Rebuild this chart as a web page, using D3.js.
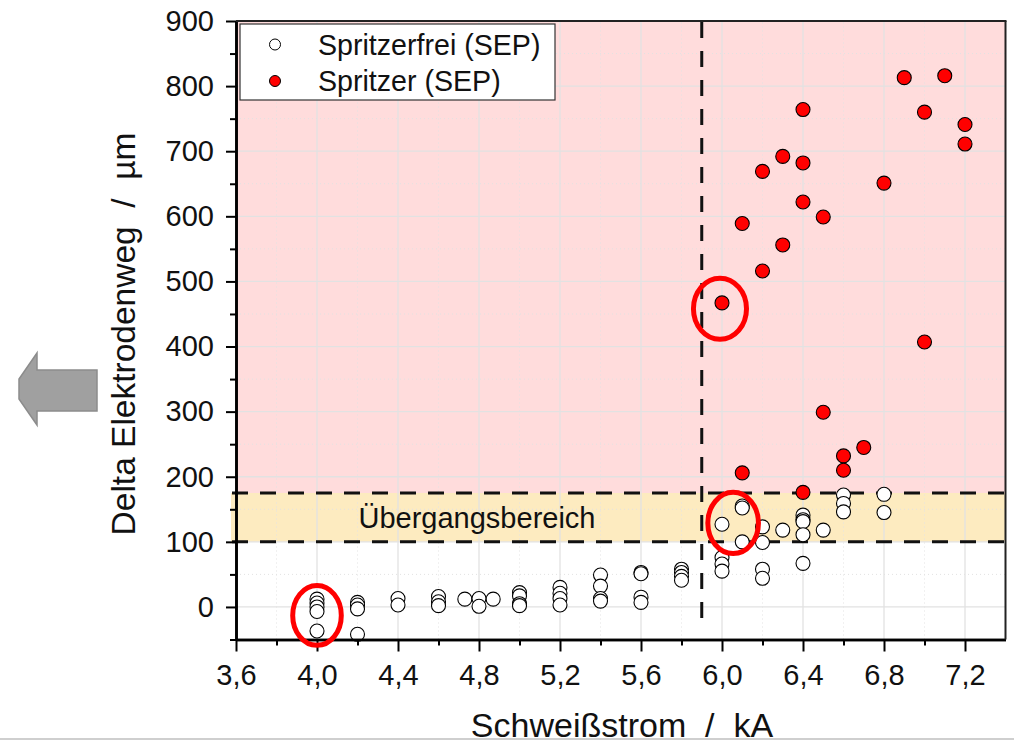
<!DOCTYPE html>
<html>
<head>
<meta charset="utf-8">
<script src="https://cdn.jsdelivr.net/npm/d3@7"></script>
<style>
  html, body { margin: 0; padding: 0; background: #fff; }
  svg { display: block; font-family: "Liberation Sans", Arial, Helvetica, sans-serif; }
  svg text { white-space: pre; }
</style>
</head>
<body>
<svg id="chart" width="1014" height="743"></svg>
<script>
// Schweißstrom (kA) gegen Delta Elektrodenweg (µm), Schweißversuche mit/ohne Spritzer

// Spritzerfrei (SEP): Strom in kA und Elektrodenweg in µm
const freiStrom = [
  4.0, 4.0, 4.0, 4.0, 4.0,
  4.2, 4.2, 4.2, 4.2,
  4.4, 4.4,
  4.6, 4.6, 4.6,
  4.73,
  4.8, 4.8,
  4.87,
  5.0, 5.0, 5.0, 5.0,
  5.2, 5.2, 5.2, 5.2,
  5.4, 5.4, 5.4, 5.4,
  5.6, 5.6, 5.6, 5.6,
  5.8, 5.8, 5.8, 5.8,
  6.0, 6.0, 6.0, 6.0,
  6.1, 6.1, 6.1,
  6.2, 6.2, 6.2, 6.2,
  6.3,
  6.4, 6.4, 6.4, 6.4, 6.4,
  6.5,
  6.6, 6.6, 6.6,
  6.8, 6.8
];
const freiWeg = [
  12, 6, 0, -7, -37,
  7, 3, -3, -42,
  13, 3,
  16, 8, 2,
  12,
  13, 1,
  12,
  22, 17, 5, 2,
  30, 21, 13, 3,
  49, 32, 13, 9,
  53, 51, 15, 7,
  58, 53, 47, 41,
  76, 66, 55, 127,
  155, 152, 100,
  123, 99, 58, 44,
  118,
  141, 134, 131, 111, 67,
  118,
  172, 159, 146,
  173, 145
];

// Spritzer (SEP)
const spritzerStrom = [
  6.0,
  6.1, 6.1,
  6.2, 6.2,
  6.3, 6.3,
  6.4, 6.4, 6.4, 6.4,
  6.5, 6.5,
  6.6, 6.6,
  6.7,
  6.8,
  6.9,
  7.0, 7.0,
  7.1,
  7.2, 7.2
];
const spritzerWeg = [
  467,
  589, 206,
  669, 516,
  692, 556,
  764, 682, 622, 176,
  599, 299,
  232, 210,
  245,
  651,
  813,
  760, 407,
  816,
  741, 711
];

// Achsen
const xDomain = [3.6, 7.4];
const yDomain = [-50, 900];
const xTicks = [3.6, 4.0, 4.4, 4.8, 5.2, 5.6, 6.0, 6.4, 6.8, 7.2];
const xMinorTicks = [3.8, 4.2, 4.6, 5.0, 5.4, 5.8, 6.2, 6.6, 7.0];
const yTicks = [0, 100, 200, 300, 400, 500, 600, 700, 800, 900];
const yMinorTicks = [-50, 50, 150, 250, 350, 450, 550, 650, 750, 850];

// Bereiche: Übergangsbereich zwischen unten/oben, darüber Spritzerbereich
const uebergang = [100, 175];
const stromGrenze = 5.9;
const stromGrenzeUnten = -34;

// Markierte Punktgruppen (Mittelpunkt und Halbachsen in Dateneinheiten)
const markCx = [4.0, 5.99, 6.055];
const markCy = [-13, 458, 129];
const markRx = [0.12, 0.131, 0.125];
const markRy = [46, 47, 47];

const legendLabels = ["Spritzerfrei (SEP)", "Spritzer (SEP)"];

const svg = d3.select("#chart");
const W = 1014, H = 743;

const x = d3.scaleLinear().domain(xDomain).range([236, 1005.5]);
const y = d3.scaleLinear().domain(yDomain).range([639.5, 21]);

const comma = d3.formatLocale({ decimal: ",", thousands: ".", grouping: [3], currency: ["", " €"] }).format(".1f");

// Trennlinie am unteren Bildrand
svg.append("rect").attr("x", 0).attr("y", 738).attr("width", W).attr("height", 2).attr("fill", "#cfcfcf");

// Hintergrundflächen
const x0 = x.range()[0], x1 = x.range()[1];
svg.append("rect")
  .attr("x", x0).attr("y", y(yDomain[1]))
  .attr("width", x1 - x0).attr("height", y(uebergang[1]) - y(yDomain[1]))
  .attr("fill", "#ffdcdc");
svg.append("rect")
  .attr("x", x0 - 5).attr("y", y(uebergang[1]))
  .attr("width", x1 - x0 + 5).attr("height", y(uebergang[0]) - y(uebergang[1]))
  .attr("fill", "#fdebc0");

// Gitter
const grid = svg.append("g");
grid.selectAll("line.vmaj").data(xTicks.filter(d => d > xDomain[0])).join("line")
  .attr("x1", d => x(d)).attr("x2", d => x(d))
  .attr("y1", y(yDomain[0])).attr("y2", y(yDomain[1]))
  .attr("stroke", "#e2e2e2").attr("stroke-width", 1.3);
grid.selectAll("line.vmin").data(xMinorTicks).join("line")
  .attr("x1", d => x(d)).attr("x2", d => x(d))
  .attr("y1", y(yDomain[0])).attr("y2", y(yDomain[1]))
  .attr("stroke", "#e2e2e2").attr("stroke-width", 1).attr("stroke-dasharray", "1,3");
grid.selectAll("line.hmaj").data(yTicks.filter(d => d < yDomain[1])).join("line")
  .attr("x1", x0).attr("x2", x1)
  .attr("y1", d => y(d)).attr("y2", d => y(d))
  .attr("stroke", "#e2e2e2").attr("stroke-width", 1.3);
grid.selectAll("line.hmin").data(yMinorTicks.filter(d => d > yDomain[0])).join("line")
  .attr("x1", x0).attr("x2", x1)
  .attr("y1", d => y(d)).attr("y2", d => y(d))
  .attr("stroke", "#e2e2e2").attr("stroke-width", 1).attr("stroke-dasharray", "1,3");

// Grenzlinien (gestrichelt)
const dashed = svg.append("g").attr("stroke", "#111").attr("stroke-width", 3).attr("fill", "none");
dashed.selectAll("line.h").data(uebergang).join("line")
  .attr("x1", x0 - 4).attr("x2", x1)
  .attr("y1", d => y(d)).attr("y2", d => y(d))
  .attr("stroke-dasharray", "16,12");
dashed.append("line")
  .attr("x1", x(stromGrenze)).attr("x2", x(stromGrenze))
  .attr("y1", y(yDomain[1]) + 1).attr("y2", y(stromGrenzeUnten))
  .attr("stroke-dasharray", "16,13");

// Beschriftung Übergangsbereich
svg.append("text")
  .attr("x", x(4.205)).attr("y", y((uebergang[0] + uebergang[1]) / 2))
  .attr("dy", "0.36em")
  .attr("font-size", 29).attr("fill", "#111")
  .text("Übergangsbereich");

// Messpunkte
const freiData = freiStrom.map((s, i) => [s, freiWeg[i]]);
const spritzerData = spritzerStrom.map((s, i) => [s, spritzerWeg[i]]);

svg.append("g").selectAll("circle").data(freiData).join("circle")
  .attr("cx", d => x(d[0])).attr("cy", d => y(d[1])).attr("r", 7)
  .attr("fill", "#fff").attr("stroke", "#000").attr("stroke-width", 1.1);
svg.append("g").selectAll("circle").data(spritzerData).join("circle")
  .attr("cx", d => x(d[0])).attr("cy", d => y(d[1])).attr("r", 7)
  .attr("fill", "#ff0000").attr("stroke", "#000").attr("stroke-width", 1.1);

// Achsen
const axisY = svg.append("g").attr("transform", `translate(${x0},0)`)
  .call(d3.axisLeft(y).tickValues(yTicks).tickSize(10).tickSizeOuter(0).tickPadding(12).tickFormat(d3.format("d")));
const axisYMinor = svg.append("g").attr("transform", `translate(${x0},0)`)
  .call(d3.axisLeft(y).tickValues(yMinorTicks).tickSize(6).tickSizeOuter(0).tickFormat(""));
const axisX = svg.append("g").attr("transform", `translate(0,${y(yDomain[0])})`)
  .call(d3.axisBottom(x).tickValues(xTicks).tickSize(12).tickSizeOuter(0).tickPadding(13).tickFormat(comma));
const axisXMinor = svg.append("g").attr("transform", `translate(0,${y(yDomain[0])})`)
  .call(d3.axisBottom(x).tickValues(xMinorTicks).tickSize(6).tickSizeOuter(0).tickFormat(""));

[axisY, axisYMinor, axisX, axisXMinor].forEach(g => {
  g.select(".domain").attr("stroke", "#000").attr("stroke-width", 2.6);
  g.selectAll(".tick line").attr("stroke", "#000").attr("stroke-width", 2);
  g.selectAll(".tick text").attr("font-size", 29).attr("fill", "#111")
    .attr("font-family", "\"Liberation Sans\", Arial, sans-serif");
});

// Rahmen oben und rechts
svg.append("line").attr("x1", x0).attr("x2", x1 + 1).attr("y1", y(yDomain[1])).attr("y2", y(yDomain[1]))
  .attr("stroke", "#222").attr("stroke-width", 2);
svg.append("line").attr("x1", x1).attr("x2", x1).attr("y1", y(yDomain[1])).attr("y2", y(yDomain[0]))
  .attr("stroke", "#222").attr("stroke-width", 2);

// Legende
const legend = svg.append("g");
legend.append("rect").attr("x", 240).attr("y", 24).attr("width", 315).attr("height", 76)
  .attr("fill", "#fff").attr("stroke", "#333").attr("stroke-width", 1.2);
const legendFill = ["#fff", "#ff0000"];
legendLabels.forEach((lab, i) => {
  const cy = 44.5 + i * 36.5;
  legend.append("circle").attr("cx", 275).attr("cy", cy).attr("r", 5.5)
    .attr("fill", legendFill[i]).attr("stroke", "#000").attr("stroke-width", 1);
  legend.append("text").attr("x", 318).attr("y", cy).attr("dy", "0.36em")
    .attr("font-size", 28.6).attr("fill", "#111").text(lab);
});

// Markierungen
svg.append("g").selectAll("ellipse").data(markCx).join("ellipse")
  .attr("cx", (d, i) => x(d)).attr("cy", (d, i) => y(markCy[i]))
  .attr("rx", (d, i) => x(d + markRx[i]) - x(d))
  .attr("ry", (d, i) => y(markCy[i] - markRy[i]) - y(markCy[i]))
  .attr("fill", "none").attr("stroke", "#ff0000").attr("stroke-width", 5);

// Achsentitel
svg.append("text")
  .attr("transform", "translate(135,334) rotate(-90)")
  .attr("text-anchor", "middle").attr("font-size", 33.5).attr("fill", "#111")
  .text("Delta Elektrodenweg  /  µm");
svg.append("text")
  .attr("x", 622).attr("y", 737)
  .attr("text-anchor", "middle").attr("font-size", 34).attr("fill", "#111")
  .text("Schweißstrom  /  kA");

// Pfeil links
svg.append("polygon")
  .attr("points", "97,370 37,370 37,353 19,379 19,399 37,425 37,411 97,411")
  .attr("fill", "#a0a0a0").attr("stroke", "#8c8c8c").attr("stroke-width", 1.5);
</script>
</body>
</html>
